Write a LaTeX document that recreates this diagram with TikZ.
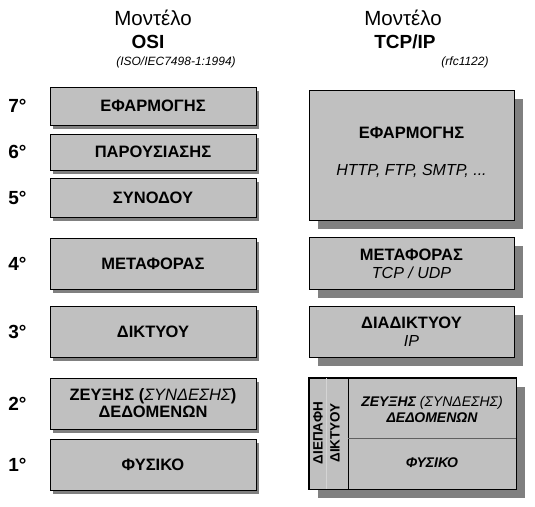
\documentclass[tikz,border=0pt]{standalone}
\usepackage{fontspec}
\setmainfont{Liberation Sans}
\definecolor{boxgray}{HTML}{C0C0C0}
\definecolor{shadowgray}{HTML}{808080}
\definecolor{linegray}{HTML}{D4D4D4}
\definecolor{divgray}{HTML}{606060}
\begin{document}
\begin{tikzpicture}[x=1pt,y=-1pt,
  osibox/.style={draw=black, line width=0.9pt, fill=boxgray, inner sep=0pt,
    minimum width=206pt, align=center,
    font=\bfseries\fontsize{16.5}{17}\selectfont,
    preaction={fill=shadowgray, transform canvas={shift={(3pt,-4pt)}}}},
  tcpbox/.style={draw=black, line width=0.9pt, fill=boxgray, inner sep=0pt,
    minimum width=205pt, align=center,
    preaction={fill=shadowgray, transform canvas={shift={(9pt,-9pt)}}}},
  head/.style={font=\bfseries\fontsize{16.5}{17}\selectfont, inner sep=0pt},
  num/.style={font=\bfseries\fontsize{19}{21}\selectfont, inner sep=0pt},
  title/.style={font=\fontsize{20.5}{22}\selectfont, inner sep=0pt},
  titleb/.style={font=\bfseries\fontsize{19}{21}\selectfont, inner sep=0pt},
  ref/.style={font=\itshape\fontsize{12}{14}\selectfont, inner sep=0pt},
  proto/.style={font=\itshape\fontsize{16}{18}\selectfont, inner sep=0pt},
  small/.style={font=\bfseries\itshape\fontsize{14}{15.5}\selectfont, inner sep=0pt, align=center},
  side/.style={font=\bfseries\fontsize{13.5}{15}\selectfont, inner sep=0pt, rotate=90}
]
\useasboundingbox (0,0) rectangle (535,506);

% titles
\node[title]  (t1) at (153,18) {Μοντέλο};
\node[titleb] (t2) at (148,42) {OSI};
\node[ref]    (t3) at (176,62) {(ISO/IEC7498-1:1994)};
\node[title]  (t4) at (403,18) {Μοντέλο};
\node[titleb] (t5) at (405,42) {TCP/IP};
\node[ref]    (t6) at (465,62) {(rfc1122)};

% OSI layers
\node[osibox, minimum height=38pt] (o7) at (153,106) {ΕΦΑΡΜΟΓΗΣ};
\node[osibox, minimum height=36pt] (o6) at (153,152) {ΠΑΡΟΥΣΙΑΣΗΣ};
\node[osibox, minimum height=39pt] (o5) at (153,197.5) {ΣΥΝΟΔΟΥ};
\node[osibox, minimum height=51pt] (o4) at (153,263.5) {ΜΕΤΑΦΟΡΑΣ};
\node[osibox, minimum height=51pt] (o3) at (153,331.5) {ΔΙΚΤΥΟΥ};
\node[osibox, minimum height=51pt] (o2) at (153,403.5) {ΖΕΥΞΗΣ ({\mdseries\itshape ΣΥΝΔΕΣΗΣ})\\ΔΕΔΟΜΕΝΩΝ};
\node[osibox, minimum height=51pt] (o1) at (153,464.5) {ΦΥΣΙΚΟ};

% layer numbers
\node[num] (n7) at (17.5,106) {7°};
\node[num] (n6) at (17.5,152) {6°};
\node[num] (n5) at (17.5,197.5) {5°};
\node[num] (n4) at (17.5,263.5) {4°};
\node[num] (n3) at (17.5,331.5) {3°};
\node[num] (n2) at (17.5,403.5) {2°};
\node[num] (n1) at (17.5,464.5) {1°};

% TCP/IP layers
\node[tcpbox, minimum height=130pt] (c4) at (411.5,155) {};
\node[head]  (c4a) at (411.5,133) {ΕΦΑΡΜΟΓΗΣ};
\node[proto] (c4b) at (411.5,171) {HTTP, FTP, SMTP, ...};

\node[tcpbox, minimum height=52pt] (c3) at (411.5,263) {};
\node[head]  (c3a) at (411.5,255) {ΜΕΤΑΦΟΡΑΣ};
\node[proto] (c3b) at (411.5,272.5) {TCP / UDP};

\node[tcpbox, minimum height=51pt] (c2) at (411.5,331.5) {};
\node[head]  (c2a) at (411.5,323) {ΔΙΑΔΙΚΤΥΟΥ};
\node[proto] (c2b) at (411.5,340.5) {IP};

\node[tcpbox, minimum width=207pt, minimum height=111pt] (c1) at (412.5,433.5) {};
\coordinate (v1t) at (348,378);
\coordinate (v1b) at (348,489);
\coordinate (v2t) at (326,378);
\coordinate (v2b) at (326,489);
\coordinate (hl) at (348,438);
\coordinate (hr) at (516,438);
\draw[linegray, line width=0.8pt] (v2t) -- (v2b);
\draw[black, line width=0.9pt] (v1t) -- (v1b);
\draw[divgray, line width=0.6pt] (hl) -- (hr);
\draw[black, line width=0.9pt] (c1.north west) rectangle (c1.south east);
\node[side] (s1) at (318,433) {ΔΙΕΠΑΦΗ};
\node[side] (s2) at (335,433) {ΔΙΚΤΥΟΥ};
\node[small] (c1a) at (432,409.5) {ΖΕΥΞΗΣ {\mdseries(ΣΥΝΔΕΣΗΣ)}\\ΔΕΔΟΜΕΝΩΝ};
\node[small] (c1b) at (432,463) {ΦΥΣΙΚΟ};
\end{tikzpicture}
\end{document}
